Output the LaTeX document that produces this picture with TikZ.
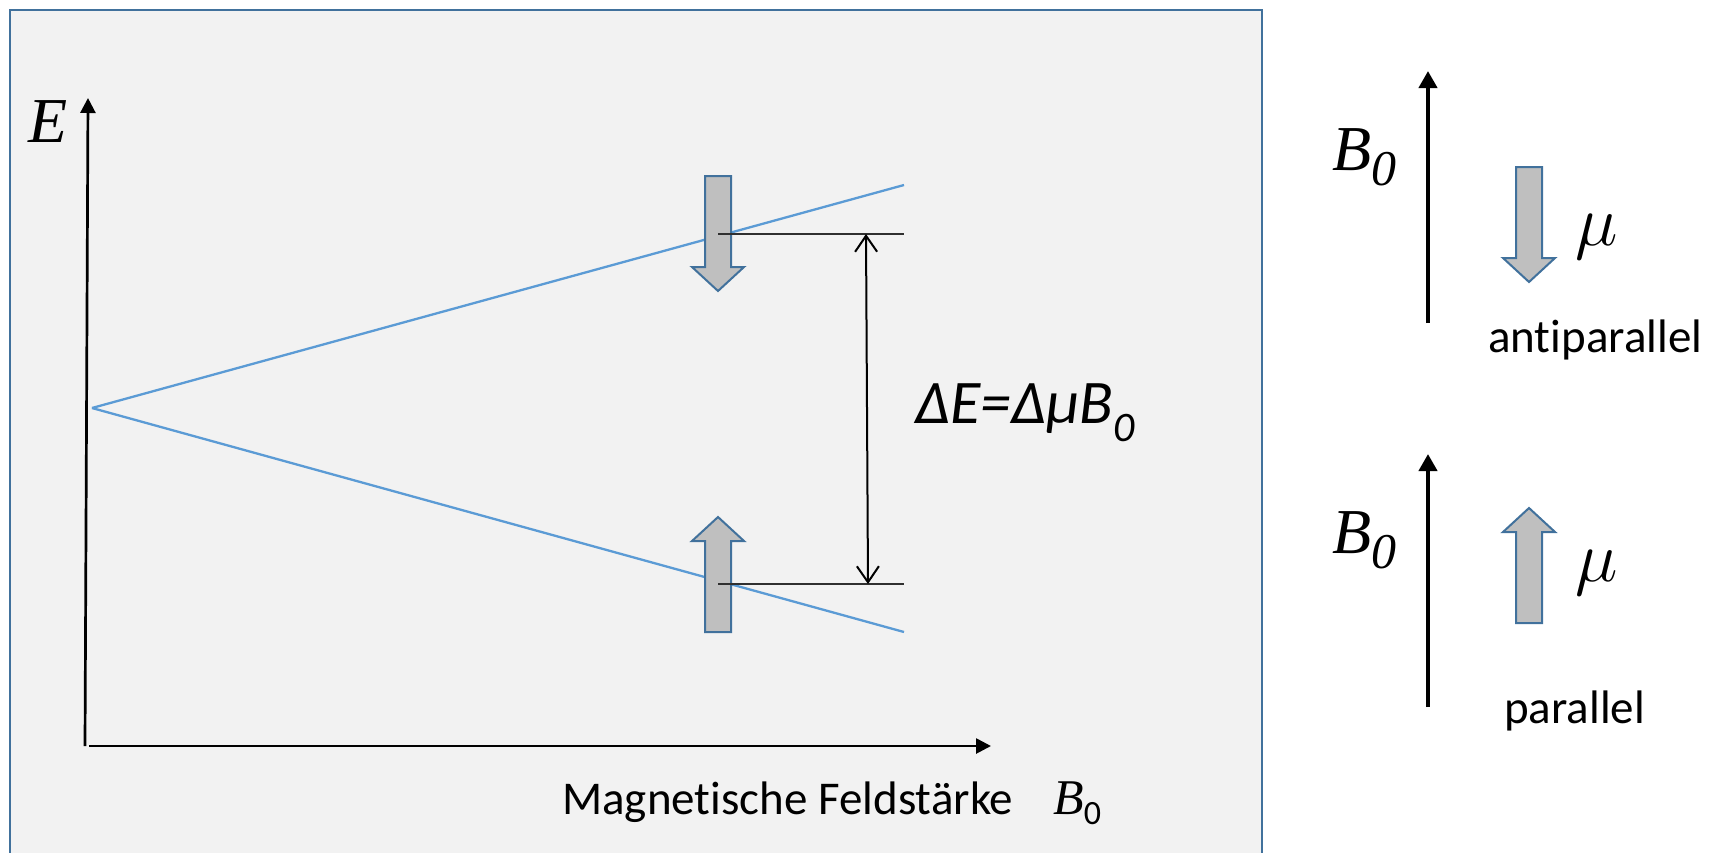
\RequirePackage{fix-cm}
\documentclass[tikz,border=0pt]{standalone}
\usepackage{fontspec}
\setmainfont{Carlito}[Ligatures={NoCommon}]
\newfontfamily\tms{Liberation Serif}
\usetikzlibrary{arrows.meta}
\definecolor{frameblue}{HTML}{41719C}
\definecolor{panel}{HTML}{F2F2F2}
\definecolor{blkfill}{HTML}{BFBFBF}
\definecolor{lineblue}{HTML}{5B9BD5}
\definecolor{lvlgray}{HTML}{303030}
\tikzset{
  axisline/.style={line width=2.7pt,-{Triangle[length=15pt,width=15pt]}},
  fieldarrow/.style={line width=4pt,-{Triangle[length=17pt,width=18pt]}},
  splitline/.style={line width=2.3pt,draw=lineblue},
  levelline/.style={line width=1.4pt,draw=lvlgray},
  blockstyle/.style={line width=2pt,draw=frameblue,fill=blkfill,line join=miter},
  blk/.pic={\draw[blockstyle] (-13,0) -- (13,0) -- (13,91) -- (26,91) -- (0,115) -- (-26,91) -- (-13,91) -- cycle;},
  lbl/.style={inner sep=0pt,anchor=base west},
  serifbig/.style={font=\fontsize{64}{64}\selectfont\tms\itshape},
  sanslbl/.style={font=\fontsize{47}{47}\selectfont},
  mulbl/.style={inner sep=0pt,font=\fontsize{72}{72}\selectfont}
}
\begin{document}
\begin{tikzpicture}[x=1pt,y=-1pt]
\useasboundingbox (0,0) rectangle (1713,852);
\clip (0,0) rectangle (1713,852);
\draw[line width=2.5pt,draw=frameblue,fill=panel] (10,10) rectangle (1262,890);

% axes
\coordinate (eo) at (85,746);
\coordinate (etop) at (88,98);
\coordinate (xo) at (89,746);
\coordinate (xend) at (991,746);
\draw[axisline] (eo) -- (etop);
\draw[axisline] (xo) -- (xend);
\node[lbl,serifbig] (Elbl) at (28,142) {E};
\node[lbl,sanslbl] (xlbl) at (562,814) {Magnetische Feldstärke};
\node[lbl,font=\fontsize{50}{50}\selectfont\tms\itshape] (xB) at (1053,814) {B\raisebox{-10pt}{\fontsize{34}{34}\selectfont\normalfont\rmfamily 0}};

% splitting lines
\coordinate (apex) at (92,408);
\coordinate (bu) at (904,185);
\coordinate (bl) at (904,632);
\draw[splitline] (apex) -- (bu);
\draw[splitline] (apex) -- (bl);

% block arrows in diagram
\pic at (718,176) {blk};
\pic[rotate=180] at (718,632) {blk};

% level lines
\coordinate (hu1) at (718,234);
\coordinate (hu2) at (904,234);
\coordinate (hl1) at (718,584);
\coordinate (hl2) at (904,584);
\draw[levelline] (hu1) -- (hu2);
\draw[levelline] (hl1) -- (hl2);

% energy gap arrow
\coordinate (dtop) at (866,234);
\coordinate (dbot) at (868,584);
\draw[line width=2pt,{Straight Barb[length=16pt,width=22pt]}-{Straight Barb[length=16pt,width=22pt]}] (dtop) -- (dbot);
\node[lbl,font=\fontsize{62}{62}\selectfont\itshape] (dE) at (915,423) {ΔE=ΔμB\raisebox{-18pt}{\fontsize{42}{42}\selectfont 0}};

% right side, antiparallel
\coordinate (f1b) at (1428,323);
\coordinate (f1t) at (1428,71);
\draw[fieldarrow] (f1b) -- (f1t);
\node[lbl,serifbig] (B1) at (1332,170) {B\raisebox{-15pt}{\fontsize{50}{50}\selectfont 0}};
\pic at (1529,167) {blk};
\node[mulbl] (mu1) at (1597,237) {$\mu$};
\node[lbl,sanslbl] (anti) at (1488,352) {antiparallel};

% right side, parallel
\coordinate (f2b) at (1428,707);
\coordinate (f2t) at (1428,454);
\draw[fieldarrow] (f2b) -- (f2t);
\node[lbl,serifbig] (B2) at (1332,553) {B\raisebox{-15pt}{\fontsize{50}{50}\selectfont 0}};
\pic[rotate=180] at (1529,623) {blk};
\node[mulbl] (mu2) at (1597,573) {$\mu$};
\node[lbl,sanslbl] (para) at (1504,723) {parallel};
\end{tikzpicture}
\end{document}
